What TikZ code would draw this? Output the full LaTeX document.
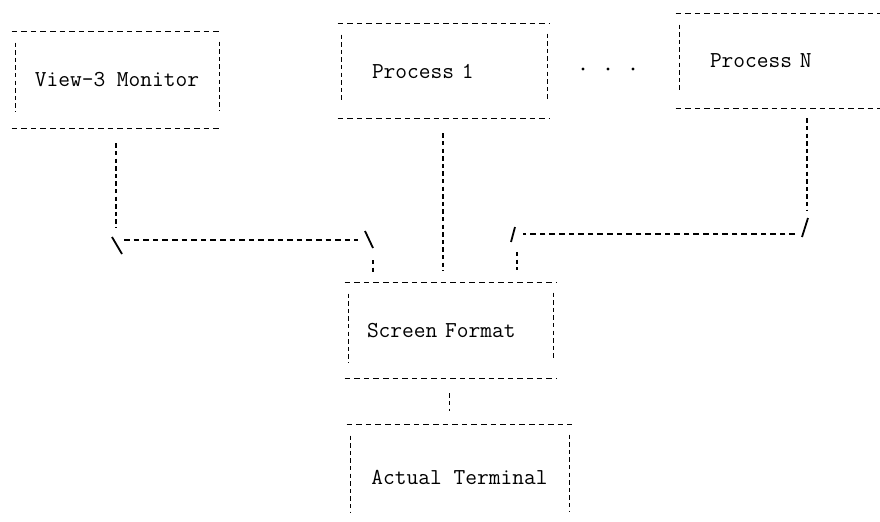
\documentclass[tikz,border=0pt]{standalone}
\usepackage{tikz}
\usetikzlibrary{calc}

\begin{document}
\begin{tikzpicture}[x=0.5pt, y=-0.5pt,
    box/.style={draw=none, align=left, font=\fontsize{11.4}{13}\selectfont\ttfamily},
    hline/.style={line width=0.6pt, dash pattern=on 2.8pt off 2pt},
    vline/.style={line width=0.8pt, dash pattern=on 2.2pt off 1.6pt},
    slash/.style={line width=0.9pt}];
    \useasboundingbox (0,0) rectangle (880,521);
    \clip (0,0) rectangle (880,521);

    \node[box, minimum width=105pt, minimum height=48pt] (mon) at (117,80) {View-3 Monitor};
    \node[box, minimum width=106pt, minimum height=47pt, inner xsep=17pt, text width=72pt] (p1) at (444,71) {Process 1};
    \node[box, minimum width=107pt, minimum height=47pt, inner xsep=17pt, text width=73pt] (pn) at (783,61) {Process N};
    \node[box, minimum width=105.5pt, minimum height=47.5pt, inner xsep=11pt, text width=83.5pt] (fmt) at (450.5,330.5) {Screen Format};
    \node[box, minimum width=112.5pt, minimum height=52pt] (term) at (459.5,477) {Actual Terminal};

    % typed frames
    \foreach \b in {mon,p1,pn,fmt,term} {
        \draw[hline] (\b.north west) -- (\b.north east);
        \draw[hline] (\b.south west) -- (\b.south east);
        \draw[vline] ($(\b.north west)+(4,11)$) -- ($(\b.south west)+(4,-16)$);
        \draw[vline] ($(\b.north east)+(-3,10)$) -- ($(\b.south east)+(-3,-18)$);
    }

    \foreach \x in {583,608,633}
        \fill (\x,69) circle (0.8pt);

    \coordinate (ka) at (117,244);
    \coordinate (kb) at (369,240);
    \coordinate (kc) at (513,234);
    \coordinate (kd) at (806,227);

    % monitor -> screen format
    \draw[vline] ($(mon.south)+(-1,15)$) -- ($(ka)+(-1,-16)$);
    \draw[slash] ($(ka)+(-5,-7)$) -- ($(ka)+(5,10)$);
    \draw[hline] ($(ka)+(7,-4)$) -- ($(kb)+(-11,0)$);
    \draw[slash] ($(kb)+(-4,-9)$) -- ($(kb)+(4,8)$);
    \draw[vline] ($(kb)+(4,20)$) -- ($(kb |- fmt.north)+(4,-11)$);

    % process 1 -> screen format
    \draw[vline] ($(p1.south)+(-1,15)$) -- ($(p1.south |- fmt.north)+(-1,-12)$);

    % process N -> screen format
    \draw[vline] ($(kd |- pn.south)+(1,10)$) -- ($(kd)+(1,-17)$);
    \draw[slash] ($(kd)+(2,-9)$) -- ($(kd)+(-4,10)$);
    \draw[hline] ($(kd)+(-11,7)$) -- ($(kc)+(10,0)$);
    \draw[slash] ($(kc)+(2,-7)$) -- ($(kc)+(-2,8)$);
    \draw[vline] ($(kc)+(4,18)$) -- ($(kc |- fmt.north)+(4,-13)$);

    % screen format -> terminal
    \draw[vline] ($(fmt.south)+(-1,15)$) -- ($(fmt.south |- term.north)+(-1,-14)$);
\end{tikzpicture}
\end{document}
